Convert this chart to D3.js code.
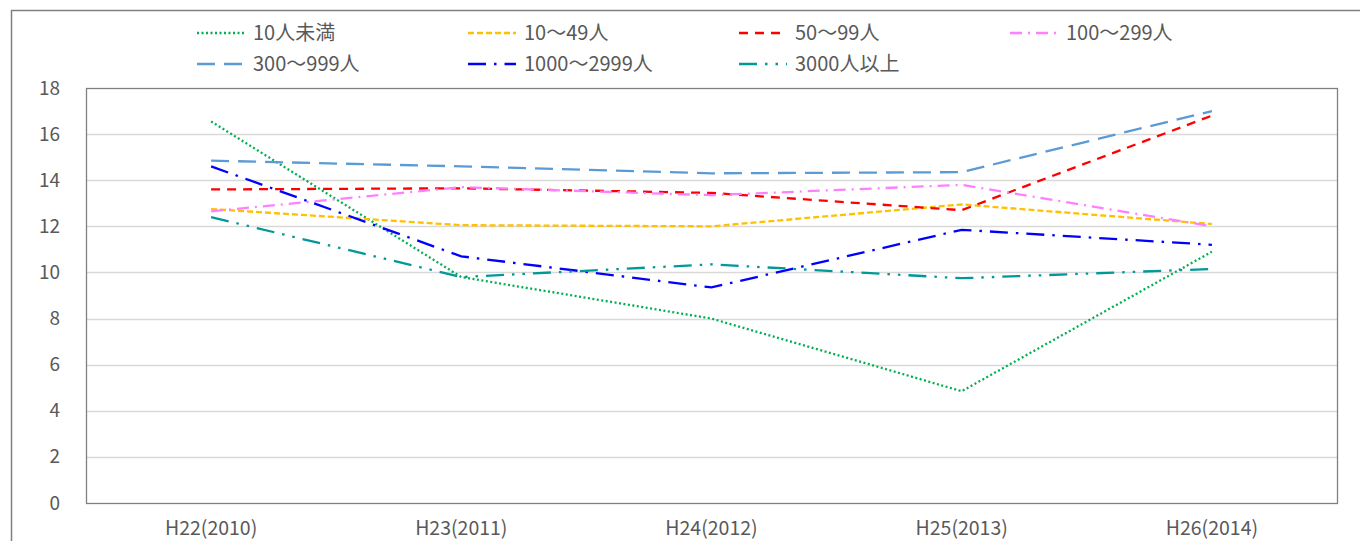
<!DOCTYPE html>
<html>
<head>
<meta charset="utf-8">
<script src="https://cdn.jsdelivr.net/npm/d3@7"></script>
<style>
  body { margin: 0; background: #fff; }
  svg text { font-family: "Noto Sans CJK JP", "Noto Sans", sans-serif; fill: #595959; }
</style>
</head>
<body>
<svg id="chart"></svg>
<script>
// values
const years = ["H22(2010)", "H23(2011)", "H24(2012)", "H25(2013)", "H26(2014)"];
const seriesNames = ["10人未満", "10〜49人", "50〜99人", "100〜299人", "300〜999人", "1000〜2999人", "3000人以上"];
const under10 = [16.55, 9.8, 8.0, 4.85, 10.9];
const s10to49 = [12.75, 12.05, 12.0, 12.95, 12.1];
const s50to99 = [13.6, 13.65, 13.45, 12.7, 16.8];
const s100to299 = [12.65, 13.7, 13.35, 13.8, 12.0];
const s300to999 = [14.85, 14.6, 14.3, 14.35, 17.0];
const s1000to2999 = [14.6, 10.7, 9.35, 11.85, 11.2];
const over3000 = [12.4, 9.8, 10.35, 9.75, 10.15];
const yTicks = [0, 2, 4, 6, 8, 10, 12, 14, 16, 18];

const allValues = [under10, s10to49, s50to99, s100to299, s300to999, s1000to2999, over3000];
const colors = ["#00B050", "#FFC000", "#FF0000", "#FF80FF", "#5B9BD5", "#0000FF", "#009999"];
const dashes = ["2,2.5", "6,3", "9,7", "12,6,2,6", "18,9", "18,8,2.5,8", "18,8,2.5,8,2.5,8"];

const width = 1360, height = 541;
const margin = { top: 88, right: 23, bottom: 38, left: 86 };

const svg = d3.select("#chart").attr("width", width).attr("height", height);

// outer chart frame (cropped on the right and bottom)
svg.append("rect")
  .attr("x", 11.5).attr("y", 10.5)
  .attr("width", width).attr("height", height)
  .attr("fill", "none").attr("stroke", "#7f7f7f").attr("stroke-width", 1.5);

const x = d3.scaleBand().domain(years).range([margin.left, width - margin.right]);
const y = d3.scaleLinear().domain([0, 18]).range([height - margin.bottom, margin.top]);

// gridlines
svg.append("g")
  .selectAll("line")
  .data(yTicks.filter((d) => d > 0 && d < 18))
  .join("line")
  .attr("x1", margin.left).attr("x2", width - margin.right)
  .attr("y1", (d) => Math.round(y(d)) + 0.5).attr("y2", (d) => Math.round(y(d)) + 0.5)
  .attr("stroke", "#d9d9d9").attr("stroke-width", 1.5);

// plot area border
svg.append("rect")
  .attr("x", margin.left + 0.5).attr("y", margin.top + 0.5)
  .attr("width", width - margin.right - margin.left)
  .attr("height", height - margin.bottom - margin.top)
  .attr("fill", "none").attr("stroke", "#808080").attr("stroke-width", 1.3);

// y axis labels
const yAxis = svg.append("g")
  .attr("transform", `translate(${margin.left}, 0)`)
  .call(d3.axisLeft(y).tickValues(yTicks).tickSize(0).tickPadding(26));
yAxis.select(".domain").remove();
yAxis.selectAll("text").style("font-size", "19px").attr("fill", "#595959");

// x axis labels
const xAxis = svg.append("g")
  .attr("transform", `translate(0, ${height - margin.bottom})`)
  .call(d3.axisBottom(x).tickSize(0).tickPadding(18));
xAxis.select(".domain").remove();
xAxis.selectAll("text").style("font-size", "19.5px").attr("fill", "#595959");

// lines
const line = d3.line()
  .x((d, i) => x(years[i]) + x.bandwidth() / 2)
  .y((d) => y(d));

svg.append("g")
  .selectAll("path")
  .data(allValues)
  .join("path")
  .attr("d", (d) => line(d))
  .attr("fill", "none")
  .attr("stroke", (d, i) => colors[i])
  .attr("stroke-width", 2.3)
  .attr("stroke-dasharray", (d, i) => dashes[i]);

// legend: 4 columns, 2 rows
const legendX = [197, 468, 739, 1010];
const legendY = [33, 64];
const legend = svg.append("g")
  .selectAll("g")
  .data(seriesNames)
  .join("g")
  .attr("transform", (d, i) => `translate(${legendX[i % 4]}, ${legendY[Math.floor(i / 4)]})`);

legend.append("line")
  .attr("x1", 0).attr("x2", 48)
  .attr("stroke", (d, i) => colors[i])
  .attr("stroke-width", 2.3)
  .attr("stroke-dasharray", (d, i) => dashes[i]);

legend.append("text")
  .attr("x", 56).attr("dy", "0.35em")
  .style("font-size", "20px")
  .text((d) => d);
</script>
</body>
</html>
